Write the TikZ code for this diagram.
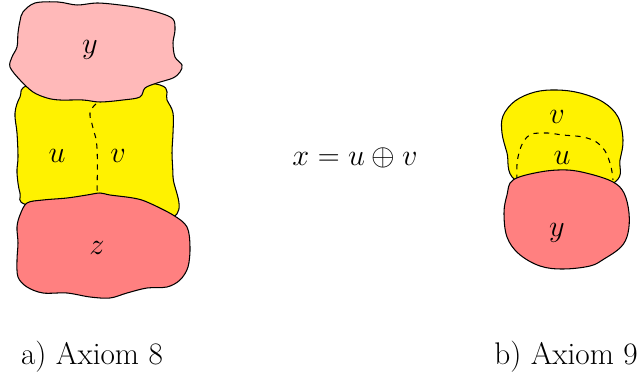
\documentclass[tikz,border=0pt]{standalone}
\begin{document}
\begin{tikzpicture}[x=0.02cm, y=-0.02cm, line width=0.6pt,
		blob/.style={draw=black, line join=round},
		lbl/.style={font=\fontsize{18}{21}\selectfont},
		captext/.style={font=\fontsize{17.8}{21}\selectfont}]
	\definecolor{lightred}{RGB}{255,185,185}
	\definecolor{midred}{RGB}{255,128,128}
	\useasboundingbox (0,0) rectangle (638,381);
	% a) Axiom 8
	\draw[blob, fill=yellow] plot[smooth cycle, tension=0.6] coordinates {
		(30,85) (20,97) (15,113) (17,133) (18,157) (17,173) (20,193) (27,205)
		(90,215) (173,217) (173,177) (172,153) (173,133) (173,113) (167,100) (160,85) (97,80)};
	\draw[dashed] plot[smooth, tension=0.7] coordinates {(96,104) (90,113) (93,128) (97,148) (97,193)};
	\draw[blob, fill=lightred] plot[smooth cycle, tension=0.55] coordinates {
		(23,12) (35,3) (58,2) (77,5) (97,3) (120,5) (140,8) (160,13) (173,19) (175,30) (173,43)
		(175,57) (182,65) (180,72) (173,78) (157,83) (145,88) (140,97) (123,100) (100,102)
		(83,100) (60,100) (47,98) (33,92) (20,80) (10,67) (12,57) (17,47) (18,33) (20,21)};
	\draw[blob, fill=midred] plot[smooth cycle, tension=0.55] coordinates {
		(27,203) (43,200) (67,198) (87,195) (100,193) (110,195) (133,198) (147,202) (173,215)
		(187,227) (190,247) (188,267) (180,280) (167,287) (147,288) (127,293) (110,298) (90,297)
		(67,293) (43,293) (27,287) (18,277) (17,260) (18,243) (17,227) (20,215)};
	\node[lbl] (ya) at (90,50) {$y$};
	\node[lbl] (ua) at (57,156) {$u$};
	\node[lbl] (va) at (118,156) {$v$};
	\node[lbl] (za) at (97,248) {$z$};
	% equation
	\node[lbl] (eq) at (355,158) {$x = u \oplus v$};
	% b) Axiom 9
	\draw[blob, fill=yellow] plot[smooth cycle, tension=0.6] coordinates {
		(503,116) (515,101) (535,92) (557,90) (580,93) (603,102) (618,117) (623,140) (620,160)
		(615,182) (565,200) (515,180) (507,153) (502,133)};
	\draw[dashed] plot[smooth, tension=0.7] coordinates {
		(517,180) (518,157) (527,137) (543,133) (563,135) (587,138) (602,147) (610,163) (613,180)};
	\draw[blob, fill=midred] plot[smooth cycle, tension=0.6] coordinates {
		(513,180) (540,172) (567,170) (590,174) (613,182) (624,193) (629,213) (628,233) (621,247)
		(604,259) (590,266) (563,269) (540,266) (519,254) (507,237) (504,213) (507,195)};
	\node[lbl] (vb) at (557,117) {$v$};
	\node[lbl] (ub) at (562,158) {$u$};
	\node[lbl] (yb) at (557,233) {$y$};
	% captions
	\node[captext] (capa) at (92,357) {a) Axiom 8};
	\node[captext] (capb) at (566,357) {b) Axiom 9};
\end{tikzpicture}
\end{document}
